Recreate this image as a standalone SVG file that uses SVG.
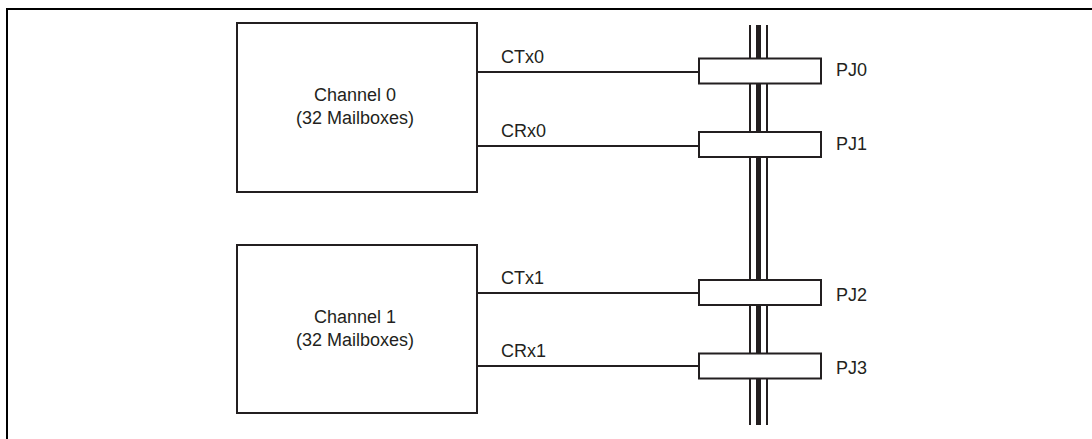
<svg xmlns="http://www.w3.org/2000/svg" width="1092" height="439" viewBox="0 0 1092 439">
<style>
.frame{fill:none;stroke:#000;stroke-width:2}
.box{fill:#fff;stroke:#231f20;stroke-width:2}
.wire{fill:none;stroke:#231f20;stroke-width:2}
.thin{stroke:#231f20;stroke-width:2}
.thick{stroke:#231f20;stroke-width:5}
text{font-family:"Liberation Sans",Arial,sans-serif;font-size:18px;fill:#231f20}
.c{text-anchor:middle}
</style>
<rect width="1092" height="439" fill="#fff"/>
<path class="frame" d="M7,439 V9 H1092"/>
<g id="bus">
<line class="thin" x1="750" y1="25" x2="750" y2="425"/>
<line class="thick" x1="758.5" y1="25" x2="758.5" y2="425"/>
<line class="thin" x1="767" y1="25" x2="767" y2="425"/>
</g>
<g id="connectors">
<line class="wire" x1="477" y1="72" x2="699" y2="72"/>
<line class="wire" x1="477" y1="146" x2="699" y2="146"/>
<line class="wire" x1="477" y1="293" x2="699" y2="293"/>
<line class="wire" x1="477" y1="366" x2="699" y2="366"/>
<text x="501" y="63">CTx0</text>
<text x="501" y="137">CRx0</text>
<text x="501" y="284">CTx1</text>
<text x="501" y="357">CRx1</text>
</g>
<g id="channel0">
<rect class="box" x="237" y="23" width="240" height="169"/>
<text class="c" x="355" y="101">Channel 0</text>
<text class="c" x="355" y="124">(32 Mailboxes)</text>
</g>
<g id="channel1">
<rect class="box" x="237" y="245" width="240" height="168"/>
<text class="c" x="355" y="323">Channel 1</text>
<text class="c" x="355" y="346">(32 Mailboxes)</text>
</g>
<g id="pj0">
<rect class="box" x="699" y="58.5" width="122" height="25"/>
<text x="836" y="76">PJ0</text>
</g>
<g id="pj1">
<rect class="box" x="699" y="132" width="122" height="25"/>
<text x="836" y="150">PJ1</text>
</g>
<g id="pj2">
<rect class="box" x="699" y="280" width="122" height="25"/>
<text x="836" y="301">PJ2</text>
</g>
<g id="pj3">
<rect class="box" x="699" y="353.5" width="122" height="25"/>
<text x="836" y="374">PJ3</text>
</g>
</svg>
